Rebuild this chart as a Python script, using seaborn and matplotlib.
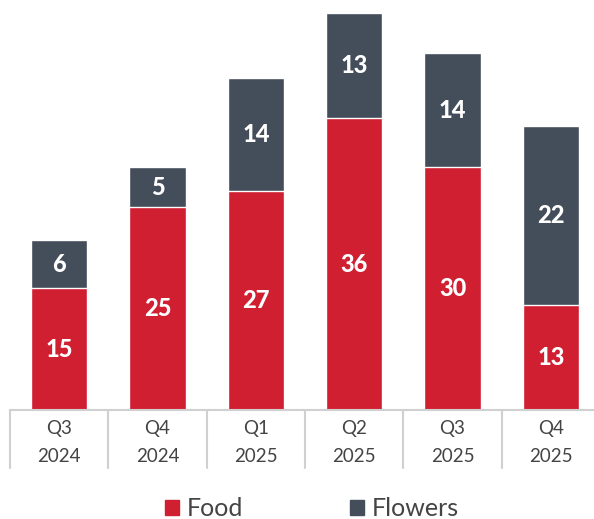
import pandas as pd
import numpy as np
import seaborn as sns
import matplotlib.pyplot as plt
from matplotlib.patches import Patch

# --- data ---
quarters = ['Q3\n2024', 'Q4\n2024', 'Q1\n2025', 'Q2\n2025', 'Q3\n2025', 'Q4\n2025']
food = [15, 25, 27, 36, 30, 13]
flowers = [6, 5, 14, 13, 14, 22]

red = '#D01F31'
slate = '#444D5A'

df = pd.DataFrame({'quarter': quarters, 'food': food, 'flowers': flowers})
df['total'] = df['food'] + df['flowers']

sns.set_style('white')
plt.rcParams['font.family'] = ['Lato', 'DejaVu Sans']

fig = plt.figure(figsize=(5.94, 5.19), dpi=100)
ax = fig.add_axes([10 / 594, 109 / 519, 590 / 594, 410 / 519])

# stacked: total (flowers colour) underneath, food on top of it
sns.barplot(data=df, x='quarter', y='total', color=slate, width=0.57,
            saturation=1, ax=ax)
sns.barplot(data=df, x='quarter', y='food', color=red, width=0.57,
            saturation=1, ax=ax)

ax.set_xlim(-0.5, 5.5)
ax.set_ylim(0, 50.6)
ax.set_xlabel('')
ax.set_ylabel('')
ax.set_yticks([])
for s in ['top', 'right', 'left']:
    ax.spines[s].set_visible(False)
ax.spines['bottom'].set_color('#D0D0D0')
ax.spines['bottom'].set_linewidth(1.5)

ax.tick_params(axis='x', length=0, pad=7, labelsize=13.5, labelcolor='#444444')
for lbl in ax.get_xticklabels():
    lbl.set_linespacing(1.8)

# separators between categories
trans = ax.get_xaxis_transform()
for xs in np.arange(-0.5, 6, 1):
    ax.plot([xs, xs], [0, -0.1415], transform=trans, color='#D0D0D0',
            lw=1.5, clip_on=False)

# value labels
for i, row in df.iterrows():
    ax.text(i, row['food'] / 2, str(row['food']), ha='center', va='center',
            color='white', fontsize=17, fontweight='black')
    ax.text(i, row['food'] + row['flowers'] / 2, str(row['flowers']),
            ha='center', va='center', color='white', fontsize=17,
            fontweight='black')

handles = [Patch(color=red, label='Food'), Patch(color=slate, label='Flowers')]
fig.legend(handles=handles, loc='center', bbox_to_anchor=(0.525, 0.02),
           ncol=2, frameon=False, fontsize=18, handlelength=0.55,
           handleheight=0.55, handletextpad=0.3, columnspacing=4.3,
           labelcolor='#444444')

fig.savefig('out.png', dpi=100)
